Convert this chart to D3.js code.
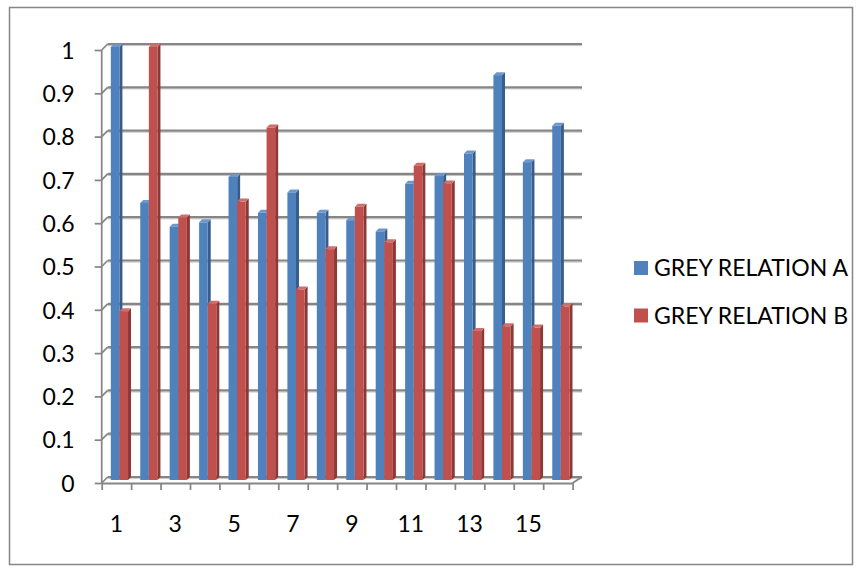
<!DOCTYPE html>
<html>
<head>
<meta charset="utf-8">
<script src="https://cdn.jsdelivr.net/npm/d3@7"></script>
<style>
  html, body { margin: 0; padding: 0; background: #fff; }
  svg { display: block; }
  text { font-family: Lato, "Liberation Sans", sans-serif; fill: #000; }
</style>
</head>
<body>
<svg id="chart" width="862" height="572"></svg>
<script>
// Grey relation degrees for 16 samples, two schemes
const categories = ["1","2","3","4","5","6","7","8","9","10","11","12","13","14","15","16"];
const seriesNames = ["GREY RELATION A", "GREY RELATION B"];
const relationA = [1.000, 0.640, 0.585, 0.595, 0.700, 0.617, 0.664, 0.617, 0.600, 0.574, 0.684, 0.702, 0.754, 0.935, 0.734, 0.818];
const relationB = [0.390, 1.000, 0.606, 0.407, 0.643, 0.814, 0.440, 0.533, 0.631, 0.549, 0.726, 0.685, 0.344, 0.355, 0.352, 0.401];
const yTicks = [0, 0.1, 0.2, 0.3, 0.4, 0.5, 0.6, 0.7, 0.8, 0.9, 1];
const xLabelShown = ["1","3","5","7","9","11","13","15"];

const colors = {
  "GREY RELATION A": { front: "#4F81BD", side: "#385D8A", top: "#6E98CB" },
  "GREY RELATION B": { front: "#C0504D", side: "#8C3836", top: "#CF6E6B" }
};
const series = [relationA, relationB];
const fontSize = 23;

const svg = d3.select("#chart");
const lineColor = "#868686";

// outer frame
svg.append("rect")
  .attr("x", 9.5).attr("y", 7.5).attr("width", 843).attr("height", 557)
  .attr("fill", "none").attr("stroke", lineColor).attr("stroke-width", 1.5);

// front plane scales
const x = d3.scaleBand().domain(categories).range([101.7, 572.6]).padding(0);
const xs = d3.scaleBand().domain(seriesNames).range([0, x.bandwidth()]).paddingInner(0).paddingOuter(0.71);
const y = d3.scaleLinear().domain([0, 1]).range([483, 50]);
const depth = 6;      // wall offset
const barShift = 3;   // bars sit mid-depth
const barDepth = 3;

const wallLeft = x.range()[0] + depth;
const wallRight = 582;

// back wall gridlines
const grid = svg.append("g");
yTicks.forEach(t => {
  const gy = y(t) - depth;
  grid.append("line").attr("x1", wallLeft).attr("x2", wallRight)
    .attr("y1", gy + 1.6).attr("y2", gy + 1.6)
    .attr("stroke", "#c4c4c4").attr("stroke-width", 1);
  grid.append("line").attr("x1", wallLeft).attr("x2", wallRight)
    .attr("y1", gy).attr("y2", gy)
    .attr("stroke", lineColor).attr("stroke-width", 2.2);
  // side wall connector from the front axis to the back wall
  grid.append("line").attr("x1", x.range()[0]).attr("x2", wallLeft)
    .attr("y1", y(t)).attr("y2", gy)
    .attr("stroke", lineColor).attr("stroke-width", 1.75);
});

// floor right edge
svg.append("line")
  .attr("x1", x.range()[1]).attr("y1", y(0))
  .attr("x2", wallRight).attr("y2", y(0) - depth)
  .attr("stroke", lineColor).attr("stroke-width", 1.75);

// 3D columns
const bars = svg.append("g");
categories.forEach((c, i) => {
  seriesNames.forEach((s, k) => {
    const v = series[k][i];
    const col = colors[s];
    const bx = x(c) + xs(s) + barShift;
    const bw = xs.bandwidth();
    const by = y(v) - barShift;
    const bb = y(0) - barShift;
    const g = bars.append("g");
    // side face
    g.append("path")
      .attr("d", `M${bx + bw},${by} L${bx + bw + barDepth},${by - barDepth} L${bx + bw + barDepth},${bb - barDepth} L${bx + bw},${bb} Z`)
      .attr("fill", col.side);
    // top face
    g.append("path")
      .attr("d", `M${bx},${by} L${bx + barDepth},${by - barDepth} L${bx + bw + barDepth},${by - barDepth} L${bx + bw},${by} Z`)
      .attr("fill", col.top);
    // front face
    g.append("rect")
      .attr("x", bx).attr("y", by).attr("width", bw).attr("height", bb - by)
      .attr("fill", col.front);
  });
});

// front y axis
const yAxis = svg.append("g")
  .attr("transform", `translate(${x.range()[0]},0)`)
  .call(d3.axisLeft(y).tickValues(yTicks).tickFormat(d3.format(".1~f")).tickSize(7).tickPadding(20));
yAxis.select(".domain").remove();
yAxis.selectAll(".tick line").attr("stroke", lineColor).attr("stroke-width", 1.75);
yAxis.selectAll("text").attr("font-size", fontSize).attr("font-family", "Lato, 'Liberation Sans', sans-serif").attr("dy", "0.36em");
svg.append("line")
  .attr("x1", x.range()[0]).attr("x2", x.range()[0])
  .attr("y1", y(1)).attr("y2", y(0))
  .attr("stroke", lineColor).attr("stroke-width", 1.75);

// front floor edge with category boundary ticks
const xEdge = d3.scaleLinear().domain([0, categories.length]).range(x.range());
const xTickAxis = svg.append("g")
  .attr("transform", `translate(0,${y(0)})`)
  .call(d3.axisBottom(xEdge).tickValues(d3.range(categories.length + 1)).tickFormat("").tickSize(7).tickSizeOuter(0));
xTickAxis.select(".domain").attr("stroke", lineColor).attr("stroke-width", 2);
xTickAxis.selectAll(".tick line").attr("stroke", lineColor).attr("stroke-width", 1.75);

// category labels
const xLabels = svg.append("g")
  .attr("transform", `translate(0,${y(0)})`)
  .call(d3.axisBottom(x).tickSize(0).tickPadding(33)
    .tickFormat(d => xLabelShown.includes(d) ? d : ""));
xLabels.select(".domain").remove();
xLabels.selectAll("text").attr("font-size", fontSize).attr("font-family", "Lato, 'Liberation Sans', sans-serif");

// legend
const legend = svg.append("g").attr("transform", "translate(634,261)");
seriesNames.forEach((s, k) => {
  const row = legend.append("g").attr("transform", `translate(0,${k * 47.5})`);
  row.append("rect").attr("width", 14).attr("height", 14).attr("fill", colors[s].front);
  row.append("text").attr("x", 20).attr("y", 7).attr("dy", "0.36em")
    .attr("font-size", fontSize).text(s);
});
</script>
</body>
</html>
